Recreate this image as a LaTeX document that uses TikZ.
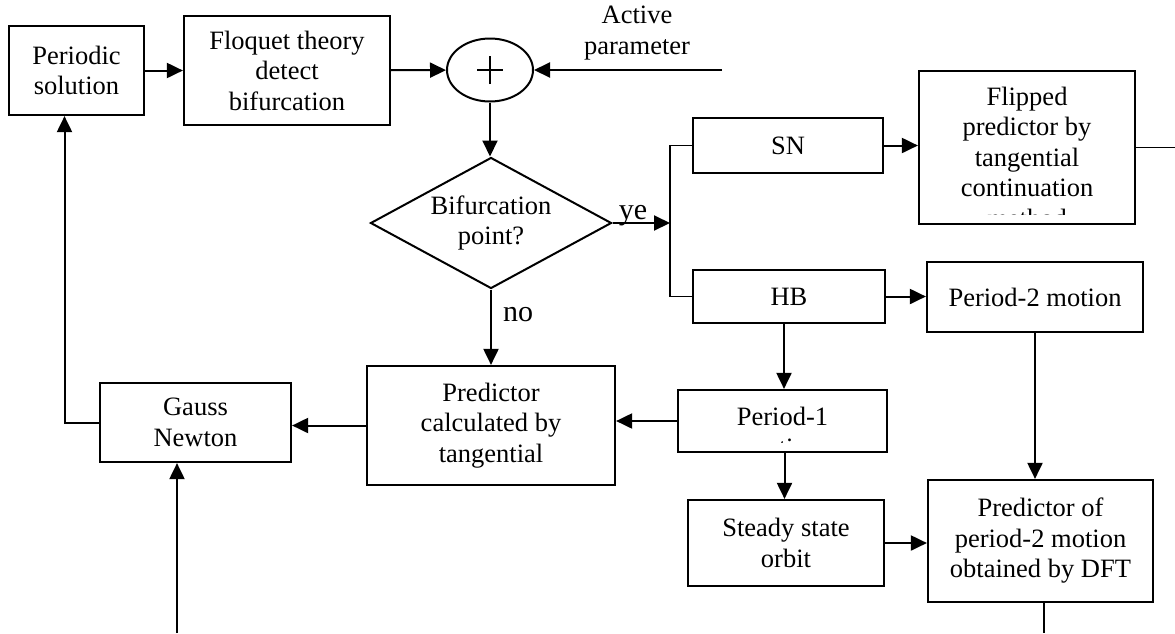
\documentclass[tikz,border=0pt]{standalone}
\usepackage{fontspec}
\setmainfont{Liberation Serif}
\usetikzlibrary{arrows.meta,shapes.geometric,calc}
\tikzset{blk/.style={draw, line width=2.2pt, inner sep=0pt, align=center},
  arr/.style={line width=2pt, -{Triangle[length=16pt,width=15pt]}},
  thinln/.style={line width=1.3pt},
  lbl/.style={inner sep=0pt, font=\fontsize{30}{34}\selectfont}}

\begin{document}
\begin{tikzpicture}[x=1pt,y=-1pt,font=\fontsize{26.5}{30.5}\selectfont]
\useasboundingbox (0,0) rectangle (1175,633);
%top row
\node[blk, minimum width=135pt, minimum height=89pt] (per) at (76.5,70.5) {Periodic\\solution};
\node[blk, minimum width=206pt, minimum height=109pt] (floq) at (287,70.5) {Floquet theory\\detect\\bifurcation};
\node[draw, ellipse, line width=2pt, minimum width=86pt, minimum height=63pt] (sum) at (490,70) {};
\draw[line width=1.6pt] ([xshift=-13pt]sum.center) -- ([xshift=13pt]sum.center)
  ([yshift=-14pt]sum.center) -- ([yshift=14pt]sum.center);
\node[align=center, inner sep=0pt] (act) at (637,33) {Active\\parameter};
\coordinate (actin) at (722,70);

%decision
\node[draw, diamond, aspect=1.84, line width=2pt, inner sep=0pt, align=center, minimum width=241pt, minimum height=131pt] (dec) at (491,223) {Bifurcation\\point?};
\node[lbl] (ye) at (633,216) {ye};
\node[lbl] (no) at (518,315) {no};
\coordinate (split) at (670,223);

%right branch
\node[blk, minimum width=190pt, minimum height=55pt] (sn) at (788,145.5) {SN};
\node[blk, minimum width=216pt, minimum height=153pt] (flip) at (1027,147.5) {};
\begin{scope}
\clip (919,71) rectangle (1135,214);
\node[align=center] (fliptxt) at (1027,157) {Flipped\\predictor by\\tangential\\continuation\\method};
\end{scope}
\coordinate (flipout) at (1175,147.5);
\node[blk, minimum width=192pt, minimum height=53pt] (hb) at (789,296.5) {HB};
\node[blk, minimum width=216pt, minimum height=70pt] (p2) at (1035,297) {Period-2 motion};
\node[blk, minimum width=209pt, minimum height=62pt] (p1) at (782.5,421) {};
\begin{scope}
\clip (678,390) rectangle (887,442);
\node[align=center] (p1txt) at (782.5,432) {Period-1\\motion};
\end{scope}
\node[blk, minimum width=196pt, minimum height=86pt] (steady) at (786,543) {Steady state\\orbit};
\node[blk, minimum width=225pt, minimum height=122pt] (pdft) at (1040.5,541) {Predictor of\\period-2 motion\\obtained by DFT};
\coordinate (pdftout) at (1044,633);

%left part
\node[blk, minimum width=248pt, minimum height=119pt] (pred) at (491,425.5) {Predictor\\calculated by\\tangential};
\node[blk, minimum width=191pt, minimum height=79pt] (gauss) at (195.5,422.5) {Gauss\\Newton};
\coordinate (gaussin) at (177,633);

%connectors
\draw[arr] (per) -- (floq);
\draw[arr] (floq) -- (sum);
\draw[arr] (actin) -- (sum.east);
\draw[arr] (sum.south) -- (sum.south |- dec.north);
\draw[arr] (dec.south) -- (dec.south |- pred.north);
\draw[arr] (dec.east) -- (split);
\draw[thinln] (sn.west) -| (split) |- (hb.west);
\draw[arr] (sn.east) -- (sn.east -| flip.west);
\draw[thinln] (flip.east) -- (flipout);
\draw[arr] (hb.east) -- (hb.east -| p2.west);
\draw[arr] ([xshift=-5pt]hb.south) -- ([xshift=-5pt]hb.south |- p1.north);
\draw[arr] (p1.west) -- (p1.west -| pred.east);
\draw[arr] ([xshift=2pt]p1.south) -- ([xshift=2pt]p1.south |- steady.north);
\draw[arr] (steady.east) -- (steady.east -| pdft.west);
\draw[arr] (p2.south) -- (p2.south |- pdft.north);
\draw[thinln] (pdftout |- pdft.south) -- (pdftout);
\draw[arr] (pred.west) -- (pred.west -| gauss.east);
\draw[arr] (gauss.west) -| ([xshift=-12pt]per.south);
\draw[arr] (gaussin) -- (gaussin |- gauss.south);
\end{tikzpicture}
\end{document}
